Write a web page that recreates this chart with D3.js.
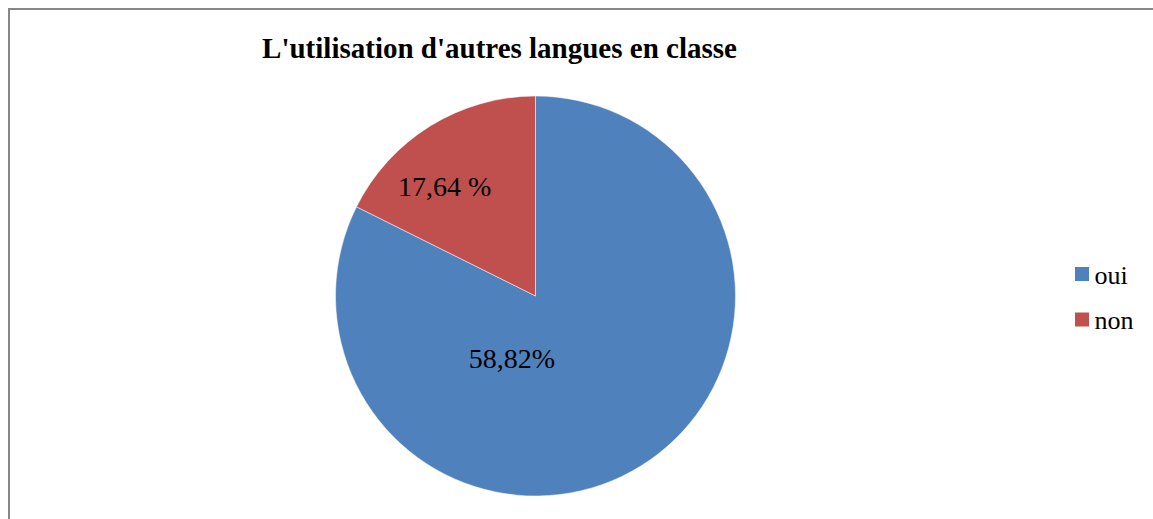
<!DOCTYPE html>
<html>
<head>
<meta charset="utf-8">
<script src="https://cdn.jsdelivr.net/npm/d3@7"></script>
<style>
  html, body { margin: 0; padding: 0; background: #fff; }
  svg { display: block; }
  text { font-family: "Liberation Serif", "Tinos", "Times New Roman", serif; }
</style>
</head>
<body>
<svg id="chart" width="1153" height="519"></svg>
<script>
const title = "L'utilisation d'autres langues en classe";
const categories = ["oui", "non"];
const values = [82.36, 17.64];
const sliceLabels = ["58,82%", "17,64 %"];
const colors = ["#4F81BD", "#C0504D"];

// layout (not data)
const W = 1153, H = 519;
const cx = 535.5, cy = 296, r = 200;
const labelNudge = [[-81.5, -30.5], [-33, -15.5]];

const svg = d3.select("#chart");

// frame
svg.append("path")
  .attr("d", `M9,${H + 5} L9,9 L${W + 5},9`)
  .attr("fill", "none")
  .attr("stroke", "#878787")
  .attr("stroke-width", 2);

svg.append("text")
  .attr("x", 499.5)
  .attr("y", 58)
  .attr("text-anchor", "middle")
  .attr("font-weight", "bold")
  .attr("font-size", 29)
  .attr("fill", "#000")
  .text(title);

const color = d3.scaleOrdinal().domain(categories).range(colors);
const pie = d3.pie().sort(null).value(d => d.value);
const data = categories.map((c, i) => ({ cat: c, value: values[i], label: sliceLabels[i] }));
const arcs = pie(data);
const arc = d3.arc().innerRadius(0).outerRadius(r);

const g = svg.append("g").attr("transform", `translate(${cx},${cy})`);
g.selectAll("path.slice")
  .data(arcs)
  .join("path")
  .attr("class", "slice")
  .attr("d", arc)
  .attr("fill", d => color(d.data.cat))
  .attr("stroke", "#ffffff")
  .attr("stroke-width", 0.5);

const labelArc = d3.arc().innerRadius(r * 0.55).outerRadius(r * 0.55);
g.selectAll("text.lbl")
  .data(arcs)
  .join("text")
  .attr("class", "lbl")
  .attr("transform", (d, i) => {
    const [x, y] = labelArc.centroid(d);
    return `translate(${x + labelNudge[i][0]},${y + labelNudge[i][1]})`;
  })
  .attr("text-anchor", "middle")
  .attr("dy", "0.33em")
  .attr("font-size", 28)
  .attr("fill", "#000")
  .text(d => d.data.label);

// legend
const legend = svg.append("g").attr("transform", "translate(1075,267)");
const items = legend.selectAll("g.item")
  .data(categories)
  .join("g")
  .attr("class", "item")
  .attr("transform", (d, i) => `translate(0,${i * 45.5})`);
items.append("rect")
  .attr("width", 14).attr("height", 14)
  .attr("fill", d => color(d));
items.append("text")
  .attr("x", 19.5).attr("y", 16.5)
  .attr("font-size", 26)
  .attr("fill", "#000")
  .text(d => d);
</script>
</body>
</html>
